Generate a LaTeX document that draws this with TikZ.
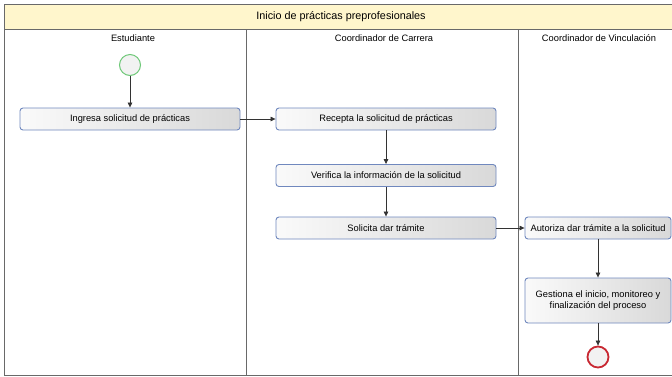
\documentclass[tikz,border=0pt]{standalone}
\usepackage{fontspec}
\setmainfont{Liberation Sans}
\usetikzlibrary{arrows.meta}
\definecolor{titlefill}{RGB}{255,246,204}
\definecolor{boxborder}{RGB}{112,136,190}
\definecolor{startgreen}{RGB}{110,200,120}
\definecolor{endred}{RGB}{200,40,50}
\definecolor{lanegray}{RGB}{105,105,105}
\tikzset{
	task/.style={draw=boxborder, line width=0.9pt, rounded corners=3pt, left color=gray!4, right color=gray!30,
		minimum height=22pt, inner sep=0pt, align=center, font=\fontsize{9.3}{11.5}\selectfont},
	event/.style={circle, minimum size=21pt, inner sep=0pt, fill=gray!10},
	flow/.style={draw=black!80, line width=0.7pt, -{Triangle[length=5pt,width=4.5pt]}},
	lanelabel/.style={font=\fontsize{9.3}{11}\selectfont}
}
\begin{document}
\begin{tikzpicture}[x=1pt,y=-1pt]
			\useasboundingbox (0,0) rectangle (672,376);
			\fill[white] (0,0) rectangle (672,376);
			\fill[titlefill] (4,4) rectangle (680,29);
			\draw[lanegray, line width=1pt] (4,4) rectangle (680,375);
			\draw[lanegray, line width=1pt] (4,29) -- (680,29);
			\draw[lanegray, line width=1pt] (246,29) -- (246,375);
			\draw[lanegray, line width=1pt] (518,29) -- (518,375);
			\node[font=\fontsize{10.8}{13}\selectfont] (titulo) at (341,16.5) {Inicio de prácticas preprofesionales};
			\node[lanelabel] (estudiante) at (133,38) {Estudiante};
			\node[lanelabel] (carrera) at (384,38) {Coordinador de Carrera};
			\node[lanelabel] (vinculacion) at (599,38) {Coordinador de Vinculación};
			% actividades
			\node[event, draw=startgreen, line width=1pt] (inicio) at (130,65) {};
			\node[task, minimum width=220pt] (ingresa) at (130,119) {Ingresa solicitud de prácticas};
			\node[task, minimum width=220pt] (recepta) at (386,119) {Recepta la solicitud de prácticas};
			\node[task, minimum width=220pt] (verifica) at (386,175.5) {Verifica la información de la solicitud};
			\node[task, minimum width=220pt] (solicita) at (386,228) {Solicita dar trámite};
			\node[task, minimum width=146pt] (autoriza) at (598,228) {Autoriza dar trámite a la solicitud};
			\node[task, minimum width=146pt, minimum height=45pt] (gestiona) at (598,300.5) {Gestiona el inicio, monitoreo y\\finalización del proceso};
			\node[event, draw=endred, line width=1.8pt] (fin) at (598,357) {};
			% flujos
			\draw[flow] (inicio) -- (ingresa);
			\draw[flow] (ingresa) -- (recepta);
			\draw[flow] (recepta) -- (verifica);
			\draw[flow] (verifica) -- (solicita);
			\draw[flow] (solicita) -- (autoriza);
			\draw[flow] (autoriza) -- (gestiona);
			\draw[flow] (gestiona) -- (fin);
\end{tikzpicture}
\end{document}
